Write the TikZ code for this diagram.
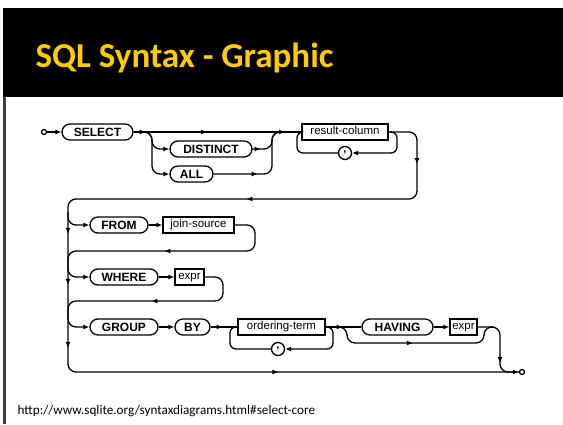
\documentclass[tikz,border=0pt]{standalone}
\usepackage{fontspec}
\setmainfont{Carlito}
\setsansfont{Liberation Sans}
\usepackage{tikz}
\usetikzlibrary{arrows.meta, decorations.markings}
\definecolor{titleyellow}{RGB}{255,204,0}
\tikzset{
  term/.style={draw, rounded corners=8pt, minimum height=16pt, inner sep=0pt, text height=8.6pt, text depth=0pt, font=\sffamily\bfseries\fontsize{12}{13}\selectfont},
  nterm/.style={draw, minimum height=16pt, inner sep=0pt, text height=8pt, text depth=2.5pt, font=\sffamily\fontsize{11.5}{12}\selectfont},
  endpt/.style={circle, draw, inner sep=0pt, minimum size=5pt},
  sepc/.style={circle, draw, inner sep=0pt, minimum size=13pt, font=\sffamily\bfseries\fontsize{11}{12}\selectfont},
  flow/.style={postaction={decorate, decoration={markings, mark=at position #1 with {\arrow{>}}}}},
}

\begin{document}
\begin{tikzpicture}[x=1pt,y=-1pt,line width=1.3pt,>={Latex[length=6pt,width=5pt]}]
  \useasboundingbox (0,0) rectangle (563,424);
  \fill[black] (3,8) rectangle (563,97); %見出し
  \fill[black!75] (3,97) rectangle (6,424);
  \node[anchor=base west,inner sep=0pt,text=titleyellow,font=\bfseries\fontsize{35}{35}\selectfont] (title) at (35,67) {SQL Syntax - Graphic};
  \node[anchor=base west,inner sep=0pt,font=\fontsize{13.2}{15}\selectfont] (url) at (17,414) {http://www.sqlite.org/syntaxdiagrams.html\#select-core};

  % 1段目
  \node[endpt] (st) at (44,132) {};
  \node[term,minimum width=71pt] (sel) at (97.5,132) {SELECT};
  \node[term,minimum width=82pt] (dist) at (211,149) {DISTINCT};
  \node[term,minimum width=43pt] (all) at (191.5,174) {ALL};
  \node[nterm,minimum width=86pt] (rc) at (345,132) {result-column};
  \node[sepc] (cm1) at (345,153) {,};
  \coordinate (j1l) at (142,132);
  \coordinate (j1) at (152,132);
  \coordinate (j2) at (272,132);
  \coordinate (j2r) at (282,132);
  \coordinate (lp1) at (297,132);
  \coordinate (rp1) at (397,132);
  \draw[->] (st) -- (sel);
  \draw[flow=12pt] (sel) -- (j1);
  \draw[flow=55pt] (j1) -- (j2);
  \draw[->,rounded corners=8pt] (j1l) -- (j1) |- (dist);
  \draw[->,rounded corners=8pt] (j1l) -- (j1) |- (all);
  \draw[rounded corners=8pt,flow=8pt] (dist) -| (j2) -- (j2r);
  \draw[rounded corners=8pt,flow=44pt] (all) -| (j2) -- (j2r);
  \draw[flow=13pt] (j2) -- (rc);
  \draw[->,rounded corners=6pt] (rc) -- (rp1) |- (cm1);
  \draw[rounded corners=6pt] (cm1) -| (lp1) -- (rc);

  % 左の縦線
  \node[endpt] (fin) at (522,372) {};
  \coordinate (r1) at (417,132);
  \coordinate (r2) at (417,199);
  \coordinate (l1) at (68,199);
  \coordinate (l2) at (68,372);
  \draw[->,rounded corners=8pt,flow=57pt,flow=259pt,flow=469pt,flow=520pt,flow=583pt,flow=814pt]
    (rc) -- (r1) -- (r2) -- (l1) -- (l2) -- (fin);

  % FROM
  \node[term,minimum width=58pt] (from) at (119,225) {FROM};
  \node[nterm,minimum width=71pt] (js) at (198.5,225) {join-source};
  \coordinate (v1) at (68,212);
  \coordinate (f2) at (255,251);
  \coordinate (v2) at (68,264);
  \draw[->,rounded corners=8pt] (v1) |- (from);
  \draw[->] (from) -- (js);
  \draw[rounded corners=8pt,flow=130pt] (js) -| (f2) -| (v2);

  % WHERE
  \node[term,minimum width=68pt] (where) at (124,277) {WHERE};
  \node[nterm,minimum width=29pt] (ex1) at (189.5,277) {expr};
  \coordinate (w2) at (223,301);
  \coordinate (v3) at (68,314);
  \draw[->,rounded corners=8pt] (v2) |- (where);
  \draw[->] (where) -- (ex1);
  \draw[rounded corners=8pt,flow=107pt] (ex1) -| (w2) -| (v3);

  % GROUP BY ... HAVING
  \node[term,minimum width=68pt] (grp) at (124,327) {GROUP};
  \node[term,minimum width=35pt] (by) at (192.5,327) {BY};
  \node[nterm,minimum width=87pt] (ot) at (281.5,327) {ordering-term};
  \node[sepc] (cm2) at (278,349) {,};
  \node[term,minimum width=71pt] (hav) at (397.5,327) {HAVING};
  \node[nterm,minimum width=27pt] (ex2) at (463.5,327) {expr};
  \coordinate (lp2) at (230,327);
  \coordinate (rp2) at (333,327);
  \coordinate (j3) at (347,327);
  \coordinate (b1) at (420,343);
  \coordinate (m3) at (484,327);
  \coordinate (rd) at (494,327);
  \coordinate (rb) at (500,372);
  \draw[->,rounded corners=8pt] (v3) |- (grp);
  \draw[->] (grp) -- (by);
  \draw[flow=12pt] (by) -- (ot);
  \draw[->,rounded corners=6pt] (ot) -- (rp2) |- (cm2);
  \draw[rounded corners=6pt] (cm2) -| (lp2) -- (ot);
  \draw[flow=17pt] (ot) -- (j3);
  \draw (j3) -- (hav);
  \draw[->] (hav) -- (ex2);
  \draw[rounded corners=8pt,flow=89pt] (rp2) -- (j3) |- (b1) -| (m3) -- (rd);
  \draw[rounded corners=8pt,flow=55pt] (ex2) -| (rb) -- (fin);
\end{tikzpicture}
\end{document}
